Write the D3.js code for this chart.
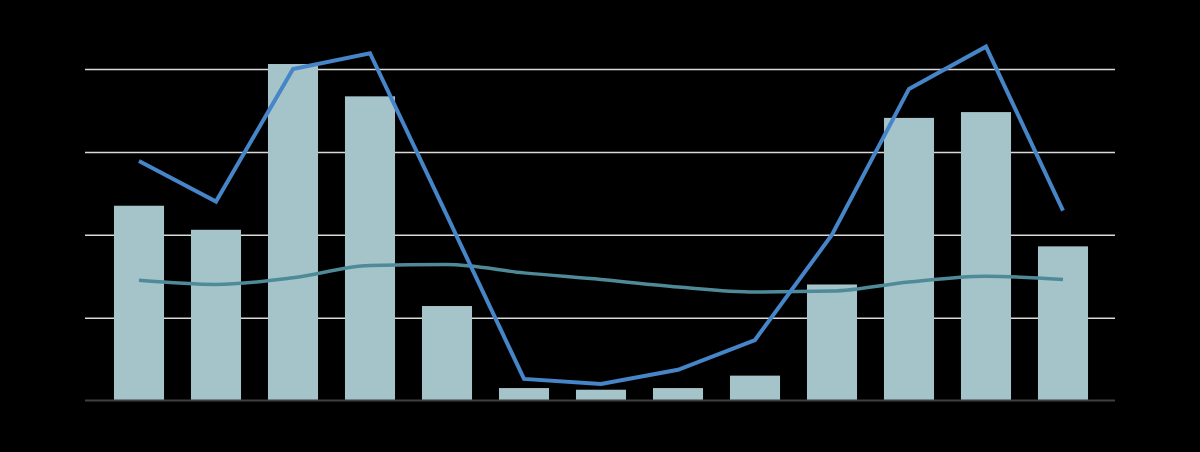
<!DOCTYPE html>
<meta charset="utf-8">
<head>
<script src="https://cdn.jsdelivr.net/npm/d3@7/dist/d3.min.js"></script>
<style>
  body { margin: 0; background: #000; }
  svg { display: block; }
</style>
</head>
<body>
<svg id="chart"></svg>
<script>
var categories = ["1", "2", "3", "4", "5", "6", "7", "8", "9", "10", "11", "12", "13"];
var barValues = [2.35, 2.06, 4.06, 3.67, 1.14, 0.15, 0.13, 0.15, 0.30, 1.40, 3.41, 3.48, 1.86];
var blueValues = [2.89, 2.40, 4.00, 4.19, 2.23, 0.26, 0.20, 0.37, 0.73, 2.00, 3.76, 4.27, 2.29];
var tealValues = [1.45, 1.40, 1.48, 1.63, 1.64, 1.54, 1.46, 1.37, 1.31, 1.32, 1.43, 1.50, 1.46];
var gridTicks = [1, 2, 3, 4];

var width = 1200;
var height = 452;
var svg = d3.select("#chart").attr("width", width).attr("height", height);

svg.append("rect").attr("width", width).attr("height", height).attr("fill", "#000");

var x = d3.scaleBand()
    .domain(categories)
    .range([100.5, 1101.5])
    .paddingInner(0.35)
    .paddingOuter(0.175);

var y = d3.scaleLinear().domain([0, 4]).range([400.5, 69]);

// gridlines
var grid = svg.append("g")
    .attr("transform", "translate(85,0)")
    .call(d3.axisLeft(y).tickValues(gridTicks).tickSize(-1030).tickFormat(""));
grid.select(".domain").remove();
grid.selectAll(".tick line").attr("stroke", "#d9d9d9").attr("stroke-width", 1.5);

// bars
svg.append("g").selectAll("rect")
    .data(barValues)
    .enter().append("rect")
    .attr("x", function(d, i) { return x(categories[i]); })
    .attr("y", function(d) { return y(d); })
    .attr("width", x.bandwidth())
    .attr("height", function(d) { return y(0) - y(d); })
    .attr("fill", "#a5c4c9");

// baseline
svg.append("line")
    .attr("x1", 85).attr("x2", 1115)
    .attr("y1", y(0)).attr("y2", y(0))
    .attr("stroke", "#404040")
    .attr("stroke-width", 2);

var cx = function(d, i) { return x(categories[i]) + x.bandwidth() / 2; };

var tealLine = d3.line().x(cx).y(function(d) { return y(d); }).curve(d3.curveMonotoneX);
svg.append("path")
    .datum(tealValues)
    .attr("d", tealLine)
    .attr("fill", "none")
    .attr("stroke", "#4e8a98")
    .attr("stroke-width", 3.5);

var blueLine = d3.line().x(cx).y(function(d) { return y(d); });
svg.append("path")
    .datum(blueValues)
    .attr("d", blueLine)
    .attr("fill", "none")
    .attr("stroke", "#4685c8")
    .attr("stroke-width", 4)
    .attr("stroke-linejoin", "miter");
</script>
</body>
